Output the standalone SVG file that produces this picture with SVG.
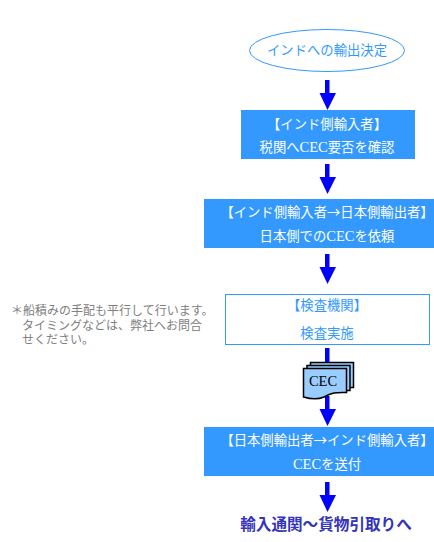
<svg xmlns="http://www.w3.org/2000/svg" width="434" height="542" viewBox="0 0 434 542">
<style>
text{font-family:"Noto Sans CJK JP",sans-serif;font-size:13.33px;text-anchor:middle}
.l{font-family:"Liberation Serif",serif;font-size:14.5px}
.f{fill:#3399ff}
.w{fill:#fff}
.b{fill:#3399ff}
.n{font-size:12px;fill:#808080;text-anchor:start}
.d{fill:#99ccff;stroke:#000;stroke-width:1.5}
</style>
<defs>
<path id="a" d="M325 0H329.500V13H336L327.500 30L319.500 13H325Z" fill="#0000ff"/>
</defs>
<rect width="434" height="542" fill="#fff"/>
<g id="connectors">
<use href="#a" y="80"/>
<use href="#a" y="164"/>
<use href="#a" y="254"/>
<path d="M325 348H329.500V364H325Z" fill="#0000ff"/>
<use href="#a" y="396"/>
<use href="#a" y="482"/>
</g>
<g id="start">
<ellipse cx="327" cy="50.500" rx="77.500" ry="21" fill="#fff" stroke="#3399ff"/>
<text class="f" x="327" y="55">インドへの輸出決定</text>
</g>
<g id="n1">
<rect class="b" x="241" y="110" width="174" height="49"/>
<text class="w" x="327" y="129">【インド側輸入者】</text>
<text class="w" x="327" y="152">税関へ<tspan class="l">CEC</tspan>要否を確認</text>
</g>
<g id="n2">
<rect class="b" x="204" y="199" width="230" height="49"/>
<text class="w" x="327" y="217">【インド側輸入者→日本側輸出者】</text>
<text class="w" x="327" y="241">日本側での<tspan class="l">CEC</tspan>を依頼</text>
</g>
<g id="n3">
<rect x="225.500" y="294.500" width="204" height="50" fill="#fff" stroke="#3399ff"/>
<text class="f" x="327" y="310">【検査機関】</text>
<text class="f" x="327" y="338">検査実施</text>
</g>
<g id="note">
<text class="n" x="11" y="315">＊船積みの手配も平行して行います。</text>
<text class="n" x="22" y="329.500">タイミングなどは、弊社へお問合</text>
<text class="n" x="22" y="344">せください。</text>
</g>
<g id="cec">
<rect class="d" x="310.500" y="362.500" width="43" height="25"/>
<rect class="d" x="307" y="365.500" width="43" height="25"/>
<path class="d" d="M303.500 368.500H346.500V392.500C336 392 331 393 324 397C317 400 310 399 303.500 397Z"/>
<text class="l" x="323" y="386" fill="#000">CEC</text>
</g>
<g id="n4">
<rect class="b" x="204" y="427" width="230" height="49"/>
<text class="w" x="327" y="445">【日本側輸出者→インド側輸入者】</text>
<text class="w" x="327" y="469"><tspan class="l">CEC</tspan>を送付</text>
</g>
<g id="end">
<text x="326" y="530" style="font-size:15.600px;font-weight:bold;fill:#3333bb">輸入通関～貨物引取りへ</text>
</g>
</svg>
